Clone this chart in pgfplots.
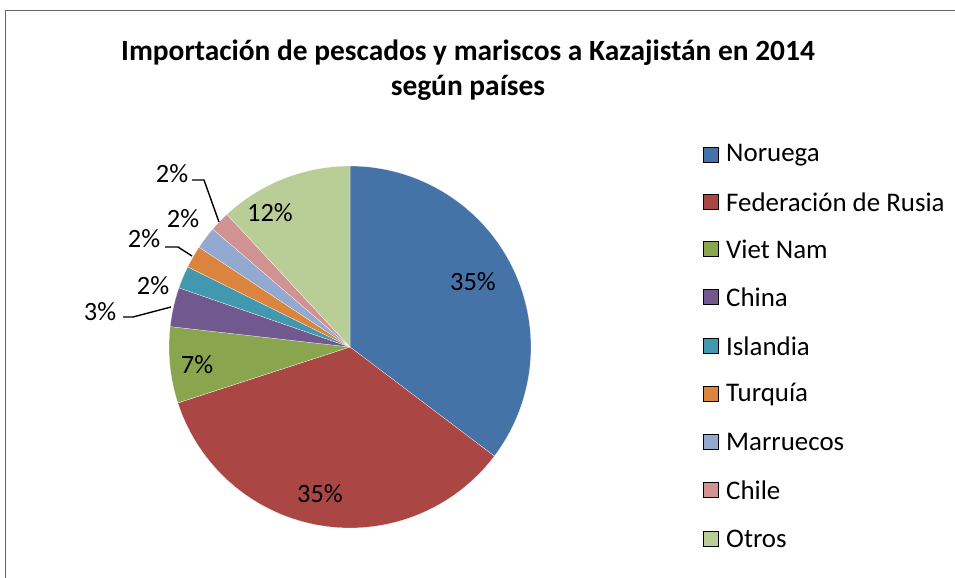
\documentclass[border=0pt]{standalone}
\usepackage{pgfplots}
\pgfplotsset{compat=1.18}
\usepackage{fontspec}
\setmainfont{Carlito}
\definecolor{cNor}{HTML}{4572A7}
\definecolor{cRus}{HTML}{AA4643}
\definecolor{cVie}{HTML}{89A54E}
\definecolor{cChi}{HTML}{71588F}
\definecolor{cIsl}{HTML}{4198AF}
\definecolor{cTur}{HTML}{DB843D}
\definecolor{cMar}{HTML}{93A9CF}
\definecolor{cChl}{HTML}{D19392}
\definecolor{cOtr}{HTML}{B9CD96}
\begin{document}
\begin{tikzpicture}
\begin{axis}[x=1bp,y=1bp,xmin=0,xmax=955,ymin=0,ymax=578,hide axis,clip=false,enlargelimits=false,
  anchor=origin,at={(0,0)}]
% border
\addplot[draw=gray!80!black,line width=0.8bp] coordinates {(5,0) (5,568) (955,568)};
% slices: domain = cumulative percentages
% values: Noruega 35.3, Rusia 34.7, Viet Nam 6.8, China 3.5, Islandia 2.0, Turquia 2.0, Marruecos 2.0, Chile 1.8, Otros 11.9
\addplot[fill=cNor,draw=white,line width=0.2bp,domain=0:35.3,samples=80] ({350+181*sin(3.6*x)},{231+181*cos(3.6*x)}) -- (axis cs:350,231) -- cycle;
\addplot[fill=cRus,draw=white,line width=0.2bp,domain=35.3:70.0,samples=80] ({350+181*sin(3.6*x)},{231+181*cos(3.6*x)}) -- (axis cs:350,231) -- cycle;
\addplot[fill=cVie,draw=white,line width=0.2bp,domain=70.0:76.8,samples=20] ({350+181*sin(3.6*x)},{231+181*cos(3.6*x)}) -- (axis cs:350,231) -- cycle;
\addplot[fill=cChi,draw=white,line width=0.2bp,domain=76.8:80.3,samples=12] ({350+181*sin(3.6*x)},{231+181*cos(3.6*x)}) -- (axis cs:350,231) -- cycle;
\addplot[fill=cIsl,draw=white,line width=0.2bp,domain=80.3:82.3,samples=8] ({350+181*sin(3.6*x)},{231+181*cos(3.6*x)}) -- (axis cs:350,231) -- cycle;
\addplot[fill=cTur,draw=white,line width=0.2bp,domain=82.3:84.3,samples=8] ({350+181*sin(3.6*x)},{231+181*cos(3.6*x)}) -- (axis cs:350,231) -- cycle;
\addplot[fill=cMar,draw=white,line width=0.2bp,domain=84.3:86.3,samples=8] ({350+181*sin(3.6*x)},{231+181*cos(3.6*x)}) -- (axis cs:350,231) -- cycle;
\addplot[fill=cChl,draw=white,line width=0.2bp,domain=86.3:88.1,samples=8] ({350+181*sin(3.6*x)},{231+181*cos(3.6*x)}) -- (axis cs:350,231) -- cycle;
\addplot[fill=cOtr,draw=white,line width=0.2bp,domain=88.1:100,samples=30] ({350+181*sin(3.6*x)},{231+181*cos(3.6*x)}) -- (axis cs:350,231) -- cycle;
% leader lines
\addplot[black,line width=1.4bp] coordinates {(192,398) (204,398) (219,356)};
\addplot[black,line width=1.4bp] coordinates {(165,331) (178,331) (192,322)};
\addplot[black,line width=1.4bp] coordinates {(123,261) (133,261) (171,271)};
% data labels
\begin{scope}[every node/.style={font=\fontsize{26.5}{30}\selectfont,inner sep=0pt}]
\node at (axis cs:473,296) {35\%};
\node at (axis cs:320,84) {35\%};
\node at (axis cs:197,213) {7\%};
\node at (axis cs:270,365) {12\%};
\node at (axis cs:172,404) {2\%};
\node at (axis cs:183,359) {2\%};
\node at (axis cs:144,339) {2\%};
\node at (axis cs:153,292) {2\%};
\node at (axis cs:100,266) {3\%};
\end{scope}
% title
\node[align=center,font=\fontsize{29.5}{35}\selectfont\bfseries,inner sep=0pt] at (axis cs:468,508) {Importación de pescados y mariscos a Kazajistán en 2014\\según países};
% legend
\addplot[only marks,mark=square*,mark size=7.5bp,mark options={draw=none,fill=cNor}] coordinates {(710.5,423)};
\addplot[only marks,mark=square*,mark size=7.5bp,mark options={draw=none,fill=cRus}] coordinates {(710.5,376)};
\addplot[only marks,mark=square*,mark size=7.5bp,mark options={draw=none,fill=cVie}] coordinates {(710.5,329)};
\addplot[only marks,mark=square*,mark size=7.5bp,mark options={draw=none,fill=cChi}] coordinates {(710.5,281)};
\addplot[only marks,mark=square*,mark size=7.5bp,mark options={draw=none,fill=cIsl}] coordinates {(710.5,232)};
\addplot[only marks,mark=square*,mark size=7.5bp,mark options={draw=none,fill=cTur}] coordinates {(710.5,184)};
\addplot[only marks,mark=square*,mark size=7.5bp,mark options={draw=none,fill=cMar}] coordinates {(710.5,136)};
\addplot[only marks,mark=square*,mark size=7.5bp,mark options={draw=none,fill=cChl}] coordinates {(710.5,88)};
\addplot[only marks,mark=square*,mark size=7.5bp,mark options={draw=none,fill=cOtr}] coordinates {(710.5,39)};
\begin{scope}[every node/.style={font=\fontsize{27}{30}\selectfont,inner sep=0pt,anchor=west}]
\node at (axis cs:726,423) {Noruega};
\node at (axis cs:726,376) {Federación de Rusia};
\node at (axis cs:726,329) {Viet Nam};
\node at (axis cs:726,281) {China};
\node at (axis cs:726,232) {Islandia};
\node at (axis cs:726,184) {Turquía};
\node at (axis cs:726,136) {Marruecos};
\node at (axis cs:726,88) {Chile};
\node at (axis cs:726,39) {Otros};
\end{scope}
\end{axis}
\pgfresetboundingbox
\path (0,0) rectangle (955bp,578bp);
\end{tikzpicture}
\end{document}
